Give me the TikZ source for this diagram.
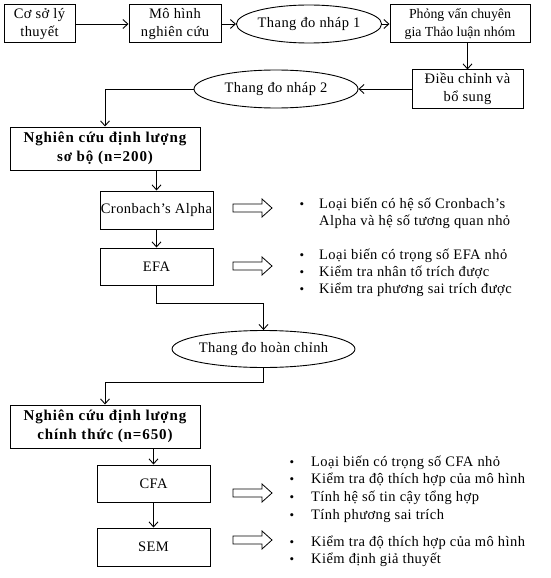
\documentclass[tikz,border=0pt]{standalone}
\usepackage{fontspec}
\setmainfont{Liberation Serif}
\newfontfamily\spacedfont[LetterSpace=3]{Liberation Serif}
\newfontfamily\widefont[LetterSpace=6]{Liberation Serif}
\usetikzlibrary{arrows.meta,shapes.geometric}
\begin{document}
\begin{tikzpicture}[x=1pt,y=-1pt,
  box/.style={draw,line width=1pt,inner sep=0pt,align=center,font=\spacedfont\fontsize{14.5}{18}\selectfont},
  bbox/.style={box,font=\widefont\bfseries\fontsize{15}{19}\selectfont},
  oval/.style={draw,ellipse,line width=0.9pt,inner sep=0pt,font=\spacedfont\fontsize{14.5}{18}\selectfont},
  conn/.style={line width=0.9pt,-{Straight Barb[length=5pt,width=9pt,line width=0.9pt]}},
  hollow/.pic={\draw[line width=0.8pt] (0,-4) -- (29,-4) -- (29,-9) -- (39,0) -- (29,9) -- (29,4) -- (0,4) -- cycle;},
  item/.style={anchor=base west,inner sep=0pt,font=\spacedfont\fontsize{14.5}{17}\selectfont},
  dot/.style={anchor=base,inner sep=0pt,font=\fontsize{13}{17}\selectfont}]
\useasboundingbox (0,0) rectangle (551,578);
% top row
\node[box,minimum width=71pt,minimum height=38pt] (b1) at (39.5,24) {Cơ sở lý\\thuyết};
\node[box,minimum width=92pt,minimum height=38pt] (b2) at (175,24) {Mô hình\\nghiên cứu};
\node[oval,minimum width=122pt,minimum height=38pt] (e1) at (309,24) {Thang đo nháp 1};
\node[box,minimum width=140pt,minimum height=38pt,font=\fontsize{13.8}{18}\selectfont] (b3) at (460,24) {Phỏng vấn chuyên\\gia Thảo luận nhóm};
\node[box,minimum width=111pt,minimum height=38pt] (b4) at (467.5,89) {Điều chỉnh và\\bổ sung};
\node[oval,minimum width=164pt,minimum height=38pt] (e2) at (276,89) {Thang đo nháp 2};
% preliminary
\node[bbox,minimum width=190pt,minimum height=43pt] (b5) at (105,148.5) {Nghiên cứu định lượng\\sơ bộ (n=200)};
\node[box,minimum width=113pt,minimum height=38pt] (cr) at (156.5,210) {Cronbach’s Alpha};
\node[box,minimum width=113pt,minimum height=37pt] (efa) at (156.5,266.5) {EFA};
\node[oval,minimum width=163pt,minimum height=37pt] (e3) at (263.5,349) {Thang đo hoàn chỉnh};
% main
\node[bbox,minimum width=190pt,minimum height=43pt] (b6) at (105,426.5) {Nghiên cứu định lượng\\chính thức (n=650)};
\node[box,minimum width=113pt,minimum height=37pt] (cfa) at (153.5,483.5) {CFA};
\node[box,minimum width=113pt,minimum height=38pt] (sem) at (153.5,547) {SEM};
% connectors
\coordinate (k1) at (105,89);
\coordinate (k2) at (157,303);
\coordinate (k3) at (105,382);
\draw[conn] (b1) -- (b2);
\draw[conn] (b2) -- (e1);
\draw[conn] (e1) -- (b3);
\draw[conn] (b4.north |- b3.south) -- (b4.north);
\draw[conn] (b4) -- (e2);
\draw[conn] (e2.west) -- (k1) -- (k1 |- b5.north);
\draw[conn] (cr.north |- b5.south) -- (cr.north);
\draw[conn] (cr) -- (efa);
\draw[conn] (efa.south) -- (efa.south |- k2) -| (e3.north);
\draw[conn] (e3.south) |- (k3) -- (k3 |- b6.north);
\draw[conn] (cfa.north |- b6.south) -- (cfa.north);
\draw[conn] (cfa) -- (sem);
% hollow arrows
\pic at (233,208) {hollow};
\pic at (233,266) {hollow};
\pic at (233,493) {hollow};
\pic at (233,540) {hollow};
% bullets Cronbach
\node[dot] (d1) at (302,208) {•};
\node[item] (t1) at (319,208) {Loại biến có hệ số Cronbach’s};
\node[item] (t1b) at (319,225) {Alpha và hệ số tương quan nhỏ};
% bullets EFA
\node[dot] (d2) at (302,259) {•};
\node[item] (t2) at (319,259) {Loại biến có trọng số EFA nhỏ};
\node[dot] (d3) at (302,276) {•};
\node[item] (t3) at (319,276) {Kiểm tra nhân tố trích được};
\node[dot] (d4) at (302,293) {•};
\node[item] (t4) at (319,293) {Kiểm tra phương sai trích được};
% bullets CFA
\node[dot] (d5) at (292,466) {•};
\node[item] (t5) at (311,466) {Loại biến có trọng số CFA nhỏ};
\node[dot] (d6) at (292,483) {•};
\node[item] (t6) at (311,483) {Kiểm tra độ thích hợp của mô hình};
\node[dot] (d7) at (292,501) {•};
\node[item] (t7) at (311,501) {Tính hệ số tin cậy tổng hợp};
\node[dot] (d8) at (292,519) {•};
\node[item] (t8) at (311,519) {Tính phương sai trích};
% bullets SEM
\node[dot] (d9) at (292,546) {•};
\node[item] (t9) at (311,546) {Kiểm tra độ thích hợp của mô hình};
\node[dot] (d10) at (292,563) {•};
\node[item] (t10) at (311,563) {Kiểm định giả thuyết};
\end{tikzpicture}
\end{document}
